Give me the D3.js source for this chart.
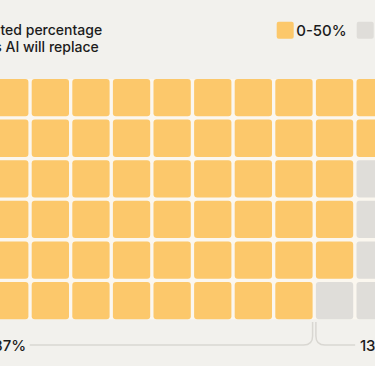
<!DOCTYPE html>
<html lang="en">
<head>
    <meta charset="UTF-8">
    <title>Estimated percentage of jobs AI will replace</title>
    <script src="https://d3js.org/d3.v7.min.js"></script>
    <style>
        html, body {
            margin: 0;
            padding: 0;
            background-color: #f2f1ed;
            overflow: hidden;
        }
        svg text {
            font-family: Inter, "Noto Sans", sans-serif;
            font-weight: 500;
            fill: #1c1c1c;
        }
    </style>
</head>
<body>
    <div id="chart"></div>

    <script>
        // Data
        const titleLines = ["Estimated percentage", "of jobs AI will replace"];
        const categories = ["0-50%", "50-100%"];
        const shares = [87, 13];
        const shareLabels = ["87%", "13%"];
        const nRows = 6;
        const nCols = 18;
        // yellow cells in each row, counted from the left
        const yellowPerRow = [17, 17, 16, 16, 16, 15];

        const colors = ["#fcc86b", "#dfddd9"];

        const W = 375, H = 366;

        const svg = d3.select("#chart")
            .append("svg")
            .attr("width", W)
            .attr("height", H);

        // Scales (the grid is wider than the visible area)
        const step = 40.6, gap = 3.3;
        const x0 = -293.1, y0 = 79;
        const x = d3.scaleBand()
            .domain(d3.range(nCols))
            .range([x0, x0 + nCols * step - gap])
            .paddingInner(gap / step)
            .paddingOuter(0);
        const y = d3.scaleBand()
            .domain(d3.range(nRows))
            .range([y0, y0 + nRows * step - gap])
            .paddingInner(gap / step)
            .paddingOuter(0);

        // Title (its left part runs off the frame)
        const title = svg.append("text")
            .attr("y", 35)
            .style("font-size", "14px");
        const tsp = title.selectAll("tspan")
            .data(titleLines)
            .enter().append("tspan")
            .attr("x", 0)
            .attr("dy", (d, i) => i === 0 ? 0 : 17)
            .text(d => d);
        // line 1 shows from "ted", line 2 from "AI"
        const n1 = tsp.nodes()[0], n2 = tsp.nodes()[1];
        const cut1 = n1.getSubStringLength(0, 6);
        const cut2 = n2.getSubStringLength(0, 8);
        d3.select(n1).attr("x", -cut1 + 0.5);
        d3.select(n2).attr("x", 5.5 - cut2);

        // Legend
        const legend = svg.append("g")
            .attr("transform", "translate(276.7,21.7)");
        const item = legend.selectAll("g")
            .data(categories)
            .enter().append("g")
            .attr("transform", (d, i) => `translate(${i * 80},0)`);
        item.append("rect")
            .attr("width", 17)
            .attr("height", 17)
            .attr("rx", 2)
            .attr("fill", (d, i) => colors[i]);
        item.append("text")
            .attr("x", 19.5)
            .attr("y", 14.6)
            .style("font-size", "15px")
            .text(d => d);

        // Waffle cells
        const cells = [];
        for (let r = 0; r < nRows; r++) {
            for (let c = 0; c < nCols; c++) {
                cells.push({ r, c, cat: c < yellowPerRow[r] ? 0 : 1 });
            }
        }

        // light backing visible in the gaps
        svg.append("rect")
            .attr("x", x.range()[0])
            .attr("y", y.range()[0])
            .attr("width", x.range()[1] - x.range()[0])
            .attr("height", y.range()[1] - y.range()[0])
            .attr("fill", "#fbf7ef");

        svg.append("g")
            .selectAll("rect")
            .data(cells)
            .enter().append("rect")
            .attr("x", d => x(d.c))
            .attr("y", d => y(d.r))
            .attr("width", x.bandwidth())
            .attr("height", y.bandwidth())
            .attr("rx", 3)
            .attr("fill", d => colors[d.cat]);

        // Brackets under the last row
        const lineY = 345, topY = 322, rad = 9, labelGap = 20;
        const lastRow = yellowPerRow[nRows - 1];
        const spans = [
            [x(0), x(lastRow - 1) + x.bandwidth()],
            [x(lastRow), x(nCols - 1) + x.bandwidth()]
        ];

        spans.forEach((s, i) => {
            const [a, b] = s;
            const mid = (a + b) / 2;
            const p = d3.path();
            p.moveTo(a, topY);
            p.lineTo(a, lineY - rad);
            p.quadraticCurveTo(a, lineY, a + rad, lineY);
            p.lineTo(mid - labelGap, lineY);
            p.moveTo(mid + labelGap, lineY);
            p.lineTo(b - rad, lineY);
            p.quadraticCurveTo(b, lineY, b, lineY - rad);
            p.lineTo(b, topY);
            svg.append("path")
                .attr("d", p.toString())
                .attr("fill", "none")
                .attr("stroke", "#d9d7d2")
                .attr("stroke-width", 1.5);
            svg.append("text")
                .attr("x", mid)
                .attr("y", lineY + 6)
                .attr("text-anchor", "middle")
                .style("font-size", "15px")
                .text(shareLabels[i]);
        });
    </script>
</body>
</html>
